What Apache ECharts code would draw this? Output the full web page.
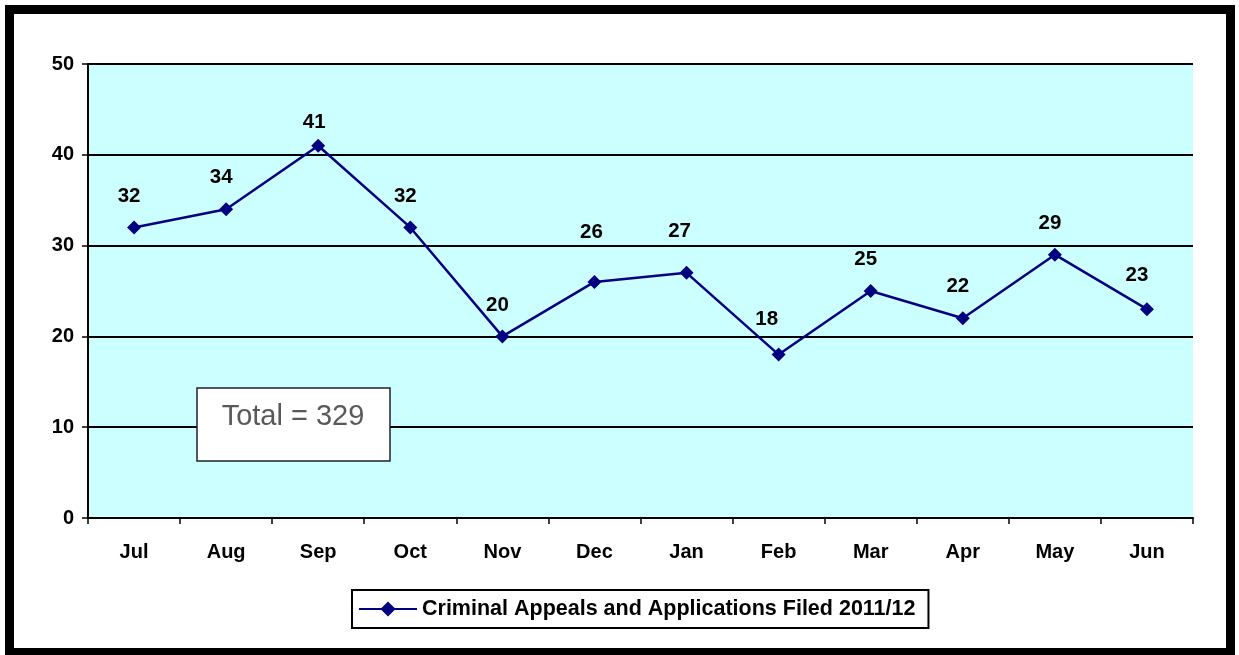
<!DOCTYPE html>
<html>
<head>
<meta charset="utf-8">
<script src="https://cdn.jsdelivr.net/npm/echarts@6/dist/echarts.min.js"></script>
<style>
  html, body { margin: 0; padding: 0; background: #ffffff; }
  #chart { width: 1239px; height: 655px; }
</style>
</head>
<body>
<div id="chart"></div>
<script>
// Monthly filings, financial year 2011/12
const months = ['Jul', 'Aug', 'Sep', 'Oct', 'Nov', 'Dec', 'Jan', 'Feb', 'Mar', 'Apr', 'May', 'Jun'];
const filed = [32, 34, 41, 32, 20, 26, 27, 18, 25, 22, 29, 23];
const seriesName = 'Criminal Appeals and Applications Filed 2011/12';
const totalText = 'Total = 329';

// Hand-placed value labels: pixel nudges [dx, dy] for a few months
const labelNudge = { Sep: [-4, 8], Dec: [-3, -18], Jan: [-7, -10], Feb: [-12, -4], Jun: [-10, -2] };

const font = 'Arial, "Liberation Sans", sans-serif';

const points = filed.map((v, i) => {
  const n = labelNudge[months[i]] || [-5, 0];
  return { value: v, label: { offset: n } };
});

const chart = echarts.init(document.getElementById('chart'), null, { renderer: 'canvas' });

chart.setOption({
  animation: false,
  backgroundColor: '#ffffff',
  grid: {
    left: 88, right: 46, top: 64, bottom: 137,
    show: true, backgroundColor: '#CCFFFF', borderWidth: 0
  },
  xAxis: {
    type: 'category',
    data: months,
    boundaryGap: true,
    axisLine: { lineStyle: { color: '#000', width: 2 } },
    axisTick: { show: true, length: 6, lineStyle: { color: '#000', width: 1.5 } },
    axisLabel: { color: '#000', fontFamily: font, fontWeight: 'bold', fontSize: 20, margin: 24 }
  },
  yAxis: {
    type: 'value',
    min: 0, max: 50, interval: 10,
    axisLine: { show: true, lineStyle: { color: '#000', width: 2 } },
    axisTick: { show: true, length: 6, lineStyle: { color: '#000', width: 1.5 } },
    axisLabel: { color: '#000', fontFamily: font, fontWeight: 'bold', fontSize: 20, margin: 14 },
    splitLine: { show: true, lineStyle: { color: '#000', width: 2 } }
  },
  legend: {
    show: true,
    data: [seriesName],
    left: 352, top: 590,
    padding: [8, 13, 8, 6],
    itemWidth: 58, itemHeight: 19,
    borderColor: '#000', borderWidth: 2, borderRadius: 0,
    backgroundColor: '#fff',
    textStyle: { color: '#000', fontFamily: font, fontWeight: 'bold', fontSize: 21.5 }
  },
  series: [{
    name: seriesName,
    type: 'line',
    data: points,
    color: '#000080',
    lineStyle: { color: '#000080', width: 2.5 },
    symbol: 'diamond',
    symbolSize: 14,
    itemStyle: { color: '#000080' },
    label: {
      show: true, position: 'top', distance: 14,
      color: '#000', fontFamily: font, fontWeight: 'bold', fontSize: 20.5
    },
    z: 5
  }],
  graphic: [
    {
      type: 'rect', z: 100, silent: true,
      shape: { x: 9.5, y: 9.5, width: 1221, height: 643 },
      style: { fill: 'none', stroke: '#000', lineWidth: 9 }
    },
    {
      type: 'rect', z: 50, silent: true,
      shape: { x: 197, y: 388, width: 193, height: 73 },
      style: { fill: '#fff', stroke: '#222', lineWidth: 1.5 }
    },
    {
      type: 'text', z: 51, silent: true,
      x: 293, y: 417,
      style: {
        text: totalText, fill: '#595959',
        font: '29px Arial, "Liberation Sans", sans-serif',
        align: 'center', verticalAlign: 'middle'
      }
    }
  ]
});
</script>
</body>
</html>
